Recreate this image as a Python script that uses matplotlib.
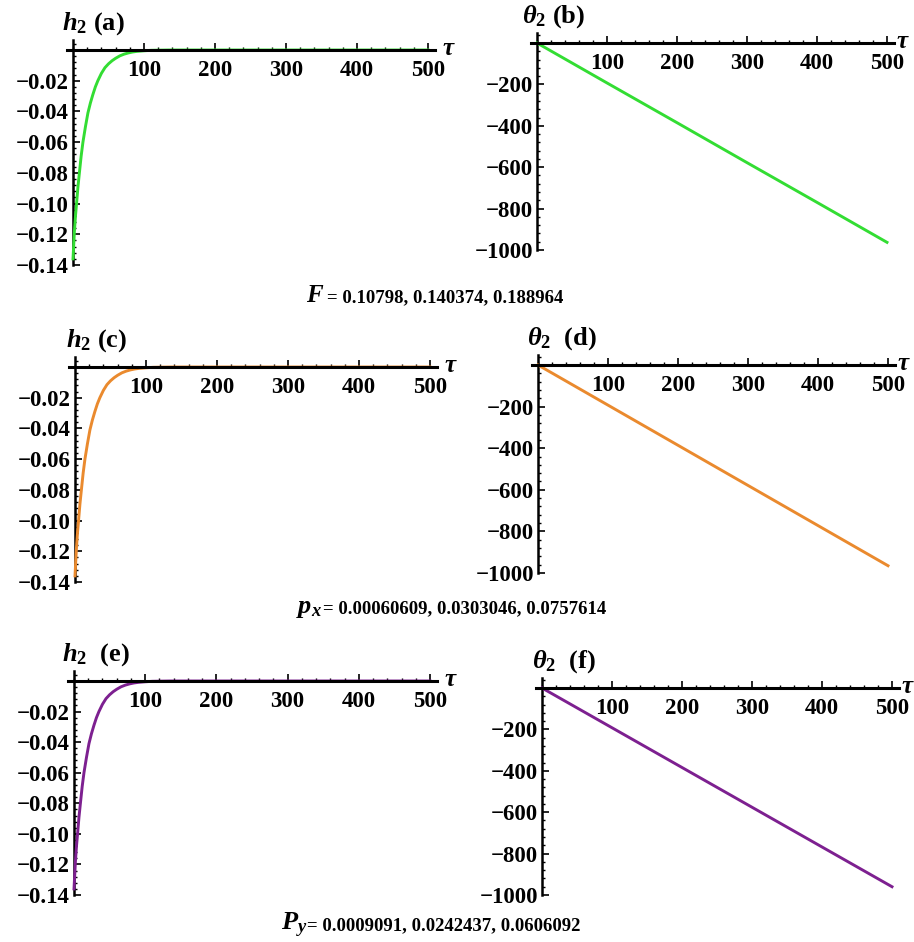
import matplotlib
matplotlib.use("Agg")
from matplotlib import pyplot as plt
from matplotlib.ticker import AutoMinorLocator, FuncFormatter

plt.rcParams['font.family'] = ['Liberation Serif', 'DejaVu Serif']
plt.rcParams['font.weight'] = 'bold'
plt.rcParams['mathtext.fontset'] = 'custom'
plt.rcParams['mathtext.it'] = 'Liberation Serif:italic:bold'
plt.rcParams['mathtext.rm'] = 'Liberation Serif:bold'
plt.rcParams['mathtext.bf'] = 'Liberation Serif:bold'

# data
tau_h = [0, 1, 2, 3.5, 5, 7, 9, 11.5, 14, 17.5, 21, 24.5, 28, 31.5, 35, 40, 45, 50, 55,
         60, 66, 72, 78, 84, 90, 100, 110, 122, 135, 200, 300, 400, 500]
h2 = [-0.136, -0.127, -0.118, -0.108, -0.100, -0.089, -0.080, -0.069, -0.060, -0.050,
      -0.041, -0.0345, -0.029, -0.024, -0.020, -0.0152, -0.0115, -0.0090, -0.0070,
      -0.0054, -0.0038, -0.0027, -0.0019, -0.0013, -0.0009, -0.0005, -0.0002, -0.0001,
      0.0, 0.0, 0.0, 0.0, 0.0]

tau_t = [0, 100, 200, 300, 400, 500]
theta_F = [0, -193, -385, -578, -770, -963]
theta_px = [0, -193, -386, -579, -772, -965]
theta_py = [0, -192, -384, -576, -768, -960]

h_ticks = [-0.02, -0.04, -0.06, -0.08, -0.10, -0.12, -0.14]
t_ticks = [-200, -400, -600, -800, -1000]
x_ticks = [100, 200, 300, 400, 500]

W, H = 914, 942
fig = plt.figure(figsize=(W / 100, H / 100), dpi=100)


def make_ax(ox, oy, x500, ybot, ymin, tau_gap):
    # place axes so that the data origin lands at pixel (ox, oy)
    xs = (x500 - ox) / 500.0
    ys = (ybot - oy) / (-ymin)
    xl, xr = -9, 510
    ytop = 10 / ys
    left = ox + xl * xs
    right = ox + xr * xs
    top = oy - 10
    ax = fig.add_axes([left / W, 1 - ybot / H, (right - left) / W, (ybot - top) / H])
    ax.set_xlim(xl, xr)
    ax.set_ylim(ymin, ytop)
    ax.spines['left'].set_position(('data', 0))
    ax.spines['bottom'].set_position(('data', 0))
    ax.spines['right'].set_visible(False)
    ax.spines['top'].set_visible(False)
    ax.spines['left'].set_linewidth(1.8)
    ax.spines['left'].set_zorder(1)
    ax.spines['bottom'].set_linewidth(2.2)
    ax.spines['bottom'].set_zorder(5)
    ax.set_xticks(x_ticks)
    ax.xaxis.set_minor_locator(AutoMinorLocator(5))
    ax.yaxis.set_minor_locator(AutoMinorLocator(5))
    ax.tick_params(axis='both', which='major', direction='in', length=5, width=1.2,
                   labelsize=16.5)
    ax.tick_params(axis='both', which='minor', direction='in', length=2.5, width=1)
    ax.tick_params(axis='x', pad=7)
    ax.tick_params(axis='y', pad=3)
    ax.patch.set_alpha(0)
    fig.text((right + tau_gap) / W, 1 - (oy + 5) / H, r'$\tau$', fontsize=18,
             ha='left', va='baseline')
    return ax


def fmt_h(v, p):
    return '\u2212%.2f' % abs(v)


def fmt_t(v, p):
    return '\u2212%d' % abs(v)


panels = [
    (73, 50, 428, 265, 'h', '#33dd33', r'$h_2$ (a)', 62),
    (537, 43, 887, 250, 't', '#33dd33', r'$\theta_2$ (b)', 522),
    (75, 367, 430, 582, 'h', '#ea8a2e', r'$h_2$ (c)', 66),
    (538, 365, 888, 573, 't', '#ea8a2e', r'$\theta_2$  (d)', 527),
    (74, 681, 430, 895, 'h', '#7d2090', r'$h_2$  (e)', 62),
    (542, 688, 892, 895, 't', '#7d2090', r'$\theta_2$  (f)', 532),
]
thetas = [theta_F, theta_px, theta_py]

for i, (ox, oy, x500, ybot, kind, col, lab, lx) in enumerate(panels):
    if kind == 'h':
        ax = make_ax(ox, oy, x500, ybot, -0.14, 7)
        ax.plot(tau_h, h2, color=col, lw=2.1, zorder=3, clip_on=False)
        ax.set_yticks(h_ticks)
        ax.yaxis.set_major_formatter(FuncFormatter(fmt_h))
    else:
        ax = make_ax(ox, oy, x500, ybot, -1000, 2)
        ax.plot(tau_t, thetas[i // 2], color=col, lw=2.1, zorder=3, clip_on=False)
        ax.set_yticks(t_ticks)
        ax.yaxis.set_major_formatter(FuncFormatter(fmt_t))
    fig.text(lx / W, 1 - (oy - 20) / H, lab, fontsize=19, ha='left', va='baseline')

# parameter captions
fig.text(324 / W, 1 - 302 / H, r'$F$', fontsize=18, ha='right', va='baseline')
fig.text(327 / W, 1 - 302 / H, '= 0.10798, 0.140374, 0.188964', fontsize=13.5,
         ha='left', va='baseline')
fig.text(322 / W, 1 - 613 / H, r'$p_x$', fontsize=19, ha='right', va='baseline')
fig.text(323 / W, 1 - 613 / H, '= 0.00060609, 0.0303046, 0.0757614', fontsize=13.5,
         ha='left', va='baseline')
fig.text(307 / W, 1 - 930 / H, r'$P_y$', fontsize=19, ha='right', va='baseline')
fig.text(307 / W, 1 - 930 / H, '= 0.0009091, 0.0242437, 0.0606092', fontsize=13.5,
         ha='left', va='baseline')

fig.savefig('out.png', dpi=100)
